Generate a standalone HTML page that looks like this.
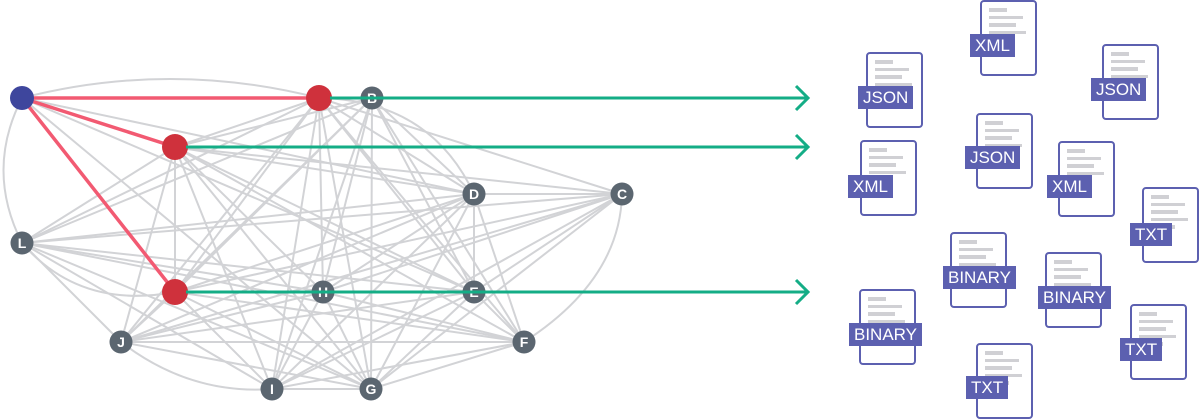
<!DOCTYPE html>
<html><head><meta charset="utf-8"><style>
html,body{margin:0;padding:0;background:#fff;width:1200px;height:420px;overflow:hidden;font-family:"Liberation Sans",sans-serif}
svg{position:absolute;left:0;top:0}
.doc{position:absolute;width:53px;height:72px;border:2.5px solid #5c60b0;border-radius:4px;background:#fff;box-sizing:content-box}
.doc i{position:absolute;left:7px;height:3.5px;background:#d0d0d4;display:block}
.lab{position:absolute;background:#5c60b0;color:#fff;font-size:17px;line-height:23px;padding:0 5px;height:23px;white-space:nowrap}
</style></head><body>
<svg id="g" width="1200" height="420"></svg>
<div id="docs"></div>
<script>
var N={A:[22,98],R1:[319,98],B:[372,98],R2:[175,147],D:[474,194],C:[622,194],L:[22,243],R3:[175,292],H:[323,292],E:[474,292],J:[121,342],F:[524,342],I:[272,389],G:[371,389]};
var s='';
var keys=Object.keys(N);
var skip={'A-R1':1,'A-R2':1,'A-R3':1,'A-L':1,'R1-B':1,'L-R3':1,'J-I':1,'C-F':1,'A-B':1};
for(var i=0;i<keys.length;i++)for(var j=i+1;j<keys.length;j++){
 var a=keys[i],b=keys[j];if(skip[a+'-'+b]||skip[b+'-'+a])continue;
 if((a=='A'&&(b=='C'||b=='F'||b=='I'||b=='J'||b=='H'))||(a=='L'&&(b=='B'||b=='R1'))||(a=='J'&&(b=='B'||b=='C'))||(a=='B'&&b=='C')) continue;
 s+='<line x1="'+N[a][0]+'" y1="'+N[a][1]+'" x2="'+N[b][0]+'" y2="'+N[b][1]+'"/>';
}
s+='<path d="M22,98 Q170,60 319,98"/><path d="M22,98 Q-15,170 22,243"/><path d="M22,243 Q80,310 175,292"/><path d="M121,342 Q190,395 272,389"/><path d="M622,194 Q620,280 524,342"/><path d="M319,98 Q430,100 474,194"/>';
var out='<g stroke="#d2d3d6" stroke-width="2" fill="none">'+s+'</g>';
out+='<g stroke="#f25a72" stroke-width="3.5"><line x1="22" y1="98" x2="319" y2="98"/><line x1="22" y1="98" x2="175" y2="147"/><line x1="22" y1="98" x2="175" y2="292"/></g>';
for(var k in N){var c=N[k];var red=(k[0]=='R'&&k.length==2);var col=k=='A'?'#3e469d':(red?'#cf313c':'#5b6670');
 out+='<circle cx="'+c[0]+'" cy="'+c[1]+'" r="'+(red?13:(k=='A'?12:11.5))+'" fill="'+col+'"/>';
 if(!(k=='A'||red))out+='<text x="'+c[0]+'" y="'+(c[1]+5)+'" fill="#fff" font-size="14" font-weight="bold" text-anchor="middle" font-family="Liberation Sans,sans-serif">'+k+'</text>';}
out+='<g stroke="#14ad86" stroke-width="3" fill="none">';
[[330,98],[186,147],[186,292]].forEach(function(p){out+='<line x1="'+p[0]+'" y1="'+p[1]+'" x2="808" y2="'+p[1]+'"/><polyline points="796,'+(p[1]-12)+' 808,'+p[1]+' 796,'+(p[1]+12)+'"/>';});
out+='</g>';
document.getElementById('g').innerHTML=out;
var D=[[866,52,'JSON',858,86],[980,0,'XML',970,34],[1102,44,'JSON',1091,78],[860,140,'XML',848,175],[976,113,'JSON',965,146],[1058,141,'XML',1047,175],[1142,187,'TXT',1130,223],[950,232,'BINARY',943,266],[1045,252,'BINARY',1038,286],[859,289,'BINARY',849,323],[1130,304,'TXT',1120,338],[976,343,'TXT',966,376]];
var h='';var W=[18,34,27,37,24];
D.forEach(function(d){h+='<div class="doc" style="left:'+d[0]+'px;top:'+d[1]+'px">';
 W.forEach(function(w,i){h+='<i style="top:'+(6+i*7.5)+'px;width:'+w+'px"></i>';});
 h+='</div><div class="lab" style="left:'+d[3]+'px;top:'+d[4]+'px">'+d[2]+'</div>';});
document.getElementById('docs').innerHTML=h;
</script>
</body></html>
